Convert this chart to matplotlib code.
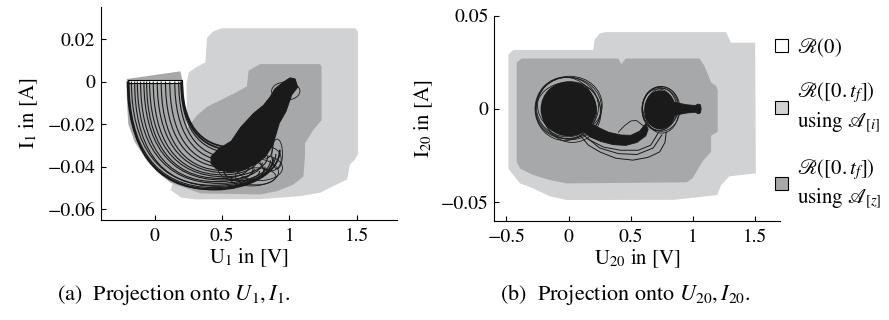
import matplotlib
matplotlib.use('Agg')
import matplotlib.pyplot as plt
from matplotlib.patches import Polygon, Rectangle, Ellipse, PathPatch, Patch
from matplotlib.path import Path

plt.rcParams['font.family'] = ['STIXGeneral', 'DejaVu Serif']
plt.rcParams['mathtext.fontset'] = 'stix'

LIGHT = '#d1d2d4'
DARK = '#a7a8aa'
INK = '#1a1a1a'

# ---------------- (a) projection onto U1, I1 ----------------
a_xticks = [0, 0.5, 1, 1.5]
a_xticklabels = ['0', '0.5', '1', '1.5']
a_yticks = [-0.06, -0.04, -0.02, 0, 0.02]
a_yticklabels = ['\u22120.06', '\u22120.04', '\u22120.02', '0', '0.02']

a_light_u = [0.242, 0.237, 0.254, 0.316, 0.377, 0.39, 0.439, 0.50, 1.49, 1.51, 1.51,
             1.487, 1.45, 1.43, 1.33, 1.23, 1.08, 0.78, 0.30, 0.20, 0.12]
a_light_i = [-0.022, -0.0011, 0.0043, 0.0070, 0.0090, 0.0206, 0.0237, 0.0250, 0.0250, 0.0235, -0.034,
             -0.0367, -0.039, -0.046, -0.049, -0.0522, -0.0538, -0.0552, -0.0553, -0.0545, -0.051]

a_dark_u = [-0.207, 0.192, 0.212, 0.217, 0.225, 0.242, 0.316, 0.39, 0.488, 0.587, 0.685, 0.698,
            0.784, 1.228, 1.24, 1.24, 1.178, 1.117, 1.117, 1.105, 1.03, 0.907, 0.784, 0.34,
            0.118, 0.02, -0.06, -0.15, -0.195, -0.205]
a_dark_i = [0.0012, 0.0048, -0.0011, -0.004, -0.012, -0.022, -0.0158, -0.0119, -0.0088, -0.0057, -0.0023, 0.0051,
            0.0082, 0.0082, 0.007, -0.0181, -0.0228, -0.029, -0.035, -0.0445, -0.0484, -0.0515, -0.053, -0.0525,
            -0.0475, -0.0425, -0.037, -0.028, -0.020, -0.010]

a_r0_u = [-0.2, 0.2]
a_r0_i = [-0.0008, 0.0009]

arc_u_start = [-0.20, -0.195, -0.19, -0.172, -0.148, -0.128, -0.104, -0.079, -0.059, -0.037,
               -0.010, 0.020, 0.049, 0.081, 0.113, 0.150, 0.179, 0.195, 0.200, 0.205]
arc_u_bottom = [0.45, 0.42, 0.44, 0.47, 0.43, 0.48, 0.46, 0.50, 0.49, 0.52,
                0.51, 0.53, 0.52, 0.55, 0.56, 0.57, 0.58, 0.59, 0.60, 0.60]
arc_i_bottom = [-0.0507, -0.0505, -0.0498, -0.0492, -0.0487, -0.0478, -0.0470, -0.0462, -0.0455, -0.0447,
                -0.0438, -0.0428, -0.0418, -0.0405, -0.0392, -0.0375, -0.0358, -0.0335, -0.0322, -0.0310]
arc_u_end = [0.93, 0.88, 0.82, 0.90, 0.78, 0.86, 0.74, 0.80, 0.70, 0.84,
             0.76, 0.72, 0.80, 0.68, 0.75, 0.70, 0.66, 0.72, 0.70, 0.68]
arc_i_end = [-0.032, -0.036, -0.040, -0.034, -0.042, -0.037, -0.041, -0.038, -0.040, -0.035,
             -0.037, -0.038, -0.034, -0.036, -0.033, -0.034, -0.033, -0.030, -0.029, -0.028]

a_blob_u = [0.42, 0.48, 0.57, 0.64, 0.735, 0.809, 0.858, 0.895, 0.957, 1.006, 1.043, 1.062,
            1.018, 0.975, 0.925, 0.90, 0.875, 0.825, 0.759, 0.661, 0.56, 0.46, 0.42]
a_blob_i = [-0.0352, -0.0315, -0.0280, -0.0215, -0.0150, -0.0112, -0.0073, -0.0034, -0.0003, 0.0017, 0.0012, -0.0026,
            -0.0062, -0.0140, -0.0196, -0.0250, -0.0300, -0.0350, -0.0385, -0.0412, -0.0425, -0.0410, -0.0385]

a_ring_u = [0.974, 0.78, 0.72, 0.86, 0.66, 0.83, 0.60, 0.75, 0.91]
a_ring_i = [-0.0045, -0.0405, -0.0425, -0.0365, -0.0415, -0.030, -0.0405, -0.0445, -0.034]
a_ring_w = [0.21, 0.34, 0.40, 0.16, 0.30, 0.10, 0.26, 0.30, 0.08]
a_ring_h = [0.0085, 0.012, 0.013, 0.011, 0.010, 0.012, 0.012, 0.008, 0.014]

# ---------------- (b) projection onto U20, I20 ----------------
b_xticks = [-0.5, 0, 0.5, 1, 1.5]
b_xticklabels = ['\u22120.5', '0', '0.5', '1', '1.5']
b_yticks = [-0.05, 0, 0.05]
b_yticklabels = ['\u22120.05', '0', '0.05']

b_light_u = [-0.484, -0.444, 0.197, 0.211, 0.251, 0.30, 1.266, 1.306, 1.50, 1.506, 1.292, 1.226,
             1.196, 1.106, 0.916, 0.85, -0.016, -0.15, -0.286, -0.39, -0.446, -0.484]
b_light_i = [0.0293, 0.0316, 0.0316, 0.0373, 0.0405, 0.0412, 0.0412, 0.0355, 0.0355, -0.0346, -0.0362, -0.0409,
             -0.0462, -0.0469, -0.0483, -0.0488, -0.0489, -0.0469, -0.0426, -0.040, -0.0355, -0.032]

b_dark_u = [-0.417, -0.377, 0.398, 0.425, 0.46, 1.052, 1.092, 1.146, 1.186, 1.199, 1.199, 1.146,
            1.146, 1.076, 0.996, 0.95, -0.016, -0.15, -0.284, -0.39, -0.417]
b_dark_i = [0.0249, 0.027, 0.027, 0.024, 0.027, 0.027, 0.0231, 0.0142, 0.0124, 0.010, -0.0123, -0.0144,
            -0.0229, -0.0283, -0.0373, -0.0394, -0.040, -0.0382, -0.0355, -0.032, -0.0284]

b_core_u = [0.0, 0.735]
b_core_i = [0.0, -0.0005]
b_core_w = [0.45, 0.255]
b_core_h = [0.0295, 0.021]

b_ring_u = [-0.01, 0.02, -0.03, 0.01, 0.03, -0.02, 0.0, 0.73, 0.75, 0.74, 0.72, 0.745]
b_ring_i = [0.001, -0.001, 0.0, 0.002, -0.002, -0.001, 0.0005, 0.0, -0.001, 0.001, -0.0005, 0.0]
b_ring_w = [0.50, 0.47, 0.48, 0.52, 0.46, 0.49, 0.53, 0.28, 0.27, 0.29, 0.26, 0.30]
b_ring_h = [0.032, 0.031, 0.034, 0.031, 0.032, 0.030, 0.033, 0.023, 0.024, 0.022, 0.0225, 0.024]

b_tail_u = [0.85, 0.95, 1.02, 1.04, 1.06, 1.066, 1.06, 1.04, 1.02, 0.95, 0.85]
b_tail_i = [0.0035, 0.0022, 0.0018, 0.0026, 0.0022, 0.0, -0.0022, -0.0026, -0.0018, -0.0022, -0.0035]

b_band_u = [0.16, 0.24, 0.32, 0.42, 0.50, 0.57, 0.62, 0.64, 0.62, 0.55, 0.46, 0.36, 0.26, 0.17, 0.12]
b_band_i = [-0.0075, -0.0100, -0.0125, -0.0140, -0.0142, -0.0120, -0.0080, -0.0110, -0.0145, -0.0180, -0.0196,
            -0.0192, -0.0175, -0.0150, -0.0120]

b_loop1_u = [0.091, 0.16, 0.251, 0.38, 0.518, 0.64, 0.732, 0.775, 0.785]
b_loop1_i = [-0.0142, -0.0195, -0.0231, -0.0265, -0.0275, -0.026, -0.0231, -0.018, -0.0124]
b_loop2_u = [0.12, 0.25, 0.40, 0.55, 0.68, 0.75]
b_loop2_i = [-0.014, -0.021, -0.024, -0.0245, -0.021, -0.014]
b_loop3_u = [0.15, 0.28, 0.42, 0.56, 0.66, 0.72]
b_loop3_i = [-0.016, -0.0205, -0.0222, -0.0222, -0.0195, -0.013]
b_bump_u = [0.40, 0.45, 0.50, 0.545, 0.58, 0.62]
b_bump_i = [-0.0125, -0.009, -0.0065, -0.0062, -0.008, -0.010]

legend_labels = [r'$\mathscr{R}(0)$',
                 r'$\mathscr{R}([0{.}t_f])$' + '\n' + r'using $\mathscr{A}_{[i]}$',
                 r'$\mathscr{R}([0{.}t_f])$' + '\n' + r'using $\mathscr{A}_{[z]}$']

W, H = 889, 320
fig = plt.figure(figsize=(W / 100, H / 100), dpi=100)
axa = fig.add_axes([100.7 / W, 1 - 220 / H, 296.3 / W, 213 / H])
axb = fig.add_axes([494 / W, 1 - 220.7 / H, 286 / W, 205 / H])


def style(ax, xt, xtl, yt, ytl, xlim, ylim):
    ax.set_xlim(*xlim)
    ax.set_ylim(*ylim)
    for s in ['top', 'right']:
        ax.spines[s].set_visible(False)
    for s in ['left', 'bottom']:
        ax.spines[s].set_linewidth(0.8)
    ax.set_xticks(xt)
    ax.set_xticklabels(xtl)
    ax.set_yticks(yt)
    ax.set_yticklabels(ytl)
    ax.tick_params(direction='in', length=3.5, width=0.8, labelsize=14)
    ax.tick_params(axis='x', pad=6)
    ax.tick_params(axis='y', pad=4)
    ax.set_facecolor('none')


def arc_path(u0, ub, ib, ue, ie):
    verts = [(u0, 0.0), (u0, 0.6 * ib), (u0 + 0.3 * (ub - u0), ib), (ub, ib),
             (ub + 0.5 * (ue - ub), ib), (ue, ib + 0.4 * (ie - ib)), (ue, ie)]
    codes = [Path.MOVETO] + [Path.CURVE4] * 6
    return Path(verts, codes)


# ---- panel (a)
axa.add_patch(Polygon(list(zip(a_light_u, a_light_i)), closed=True, fc=LIGHT, ec='none', zorder=1))
axa.add_patch(Polygon(list(zip(a_dark_u, a_dark_i)), closed=True, fc=DARK, ec='none', zorder=2))
axa.add_patch(Rectangle((a_r0_u[0], a_r0_i[0]), a_r0_u[1] - a_r0_u[0], a_r0_i[1] - a_r0_i[0],
                        fc='white', ec='black', lw=0.8, zorder=3))
for k, (u0, ub, ib, ue, ie) in enumerate(zip(arc_u_start, arc_u_bottom, arc_i_bottom, arc_u_end, arc_i_end)):
    lw = 1.3 if k in (0, 1, 18, 19) else 0.8
    axa.add_patch(PathPatch(arc_path(u0, ub, ib, ue, ie), fc='none', ec=INK, lw=lw, zorder=4))
axa.add_patch(Polygon(list(zip(a_blob_u, a_blob_i)), closed=True, fc=INK, ec=INK, lw=0.8, zorder=5))
for cu, ci, w, h in zip(a_ring_u, a_ring_i, a_ring_w, a_ring_h):
    axa.add_patch(Ellipse((cu, ci), w, h, fc='none', ec=INK, lw=0.6, zorder=5))
style(axa, a_xticks, a_xticklabels, a_yticks, a_yticklabels, (-0.4, 1.8), (-0.065, 0.035))
axa.set_xlabel(r'$\mathrm{U}_1$ in [V]', fontsize=15, labelpad=1)
axa.set_ylabel(r'$\mathrm{I}_1$ in [A]', fontsize=15, labelpad=5)

# ---- panel (b)
axb.add_patch(Polygon(list(zip(b_light_u, b_light_i)), closed=True, fc=LIGHT, ec='none', zorder=1))
axb.add_patch(Polygon(list(zip(b_dark_u, b_dark_i)), closed=True, fc=DARK, ec='none', zorder=2))
axb.add_patch(Polygon(list(zip(b_band_u, b_band_i)), closed=True, fc=INK, ec=INK, lw=0.6, zorder=4))
for lu, li in [(b_loop1_u, b_loop1_i), (b_loop2_u, b_loop2_i), (b_loop3_u, b_loop3_i)]:
    axb.plot(lu, li, color=INK, lw=0.7, zorder=4)
axb.plot(b_bump_u, b_bump_i, color=INK, lw=0.6, zorder=4)
for cu, ci, w, h in zip(b_core_u, b_core_i, b_core_w, b_core_h):
    axb.add_patch(Ellipse((cu, ci), w, h, fc=INK, ec='none', zorder=5))
for cu, ci, w, h in zip(b_ring_u, b_ring_i, b_ring_w, b_ring_h):
    axb.add_patch(Ellipse((cu, ci), w, h, fc='none', ec=INK, lw=0.6, zorder=5))
axb.add_patch(Polygon(list(zip(b_tail_u, b_tail_i)), closed=True, fc=INK, ec=INK, lw=0.6, zorder=5))
style(axb, b_xticks, b_xticklabels, b_yticks, b_yticklabels, (-0.6, 1.7), (-0.06, 0.05))
axb.set_xlabel(r'$\mathrm{U}_{20}$ in [V]', fontsize=15, labelpad=1)
axb.set_ylabel(r'$\mathrm{I}_{20}$ in [A]', fontsize=15, labelpad=4)

handles = [Patch(fc='white', ec='black', lw=0.8),
           Patch(fc=LIGHT, ec='black', lw=0.8),
           Patch(fc=DARK, ec='black', lw=0.8)]
leg = fig.legend(handles, legend_labels, loc='upper left', bbox_to_anchor=(775 / W, 1 - 36 / H),
                 frameon=False, fontsize=15, handlelength=0.6, handleheight=0.6,
                 handletextpad=0.45, labelspacing=1.05, borderpad=0, borderaxespad=0)
for t in leg.get_texts():
    t.set_linespacing(1.3)

fig.text(57 / W, 1 - 300 / H, r'(a)  Projection onto $U_1, I_1$.', ha='left', va='baseline', fontsize=16)
fig.text(500 / W, 1 - 300 / H, r'(b)  Projection onto $U_{20}, I_{20}$.', ha='left', va='baseline', fontsize=16)

fig.savefig('out.png', dpi=100)
